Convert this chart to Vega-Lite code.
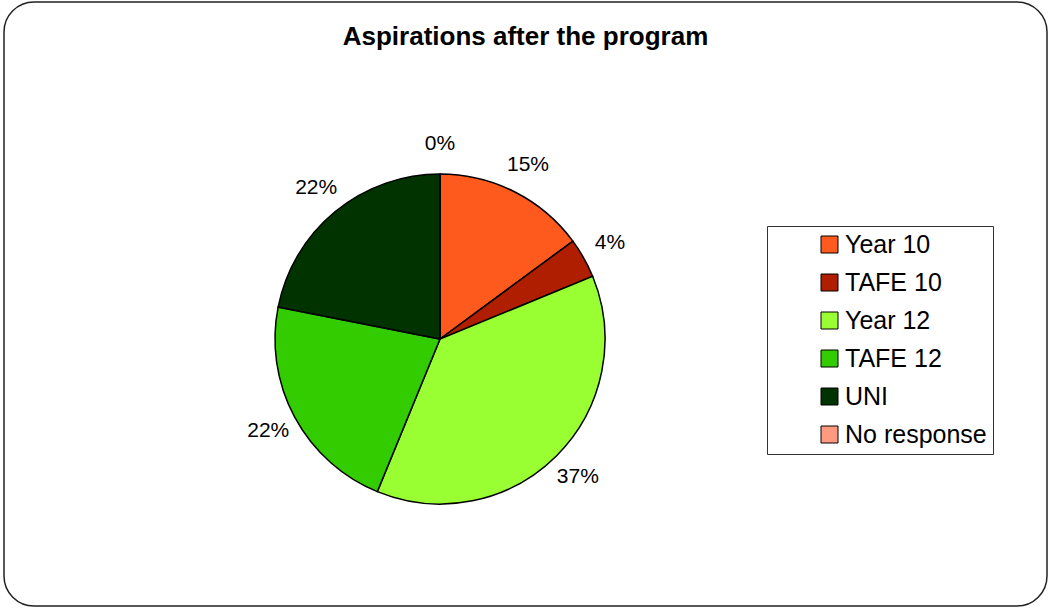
{
  "$schema": "https://vega.github.io/schema/vega-lite/v6.json",
  "width": 1043,
  "height": 604,
  "autosize": {"type": "none"},
  "padding": {"left": 4, "top": 2, "right": 4, "bottom": 2},
  "background": "white",
  "view": {"stroke": "#222", "strokeWidth": 1.5, "cornerRadius": 30, "fill": "white"},
  "title": {
    "text": "Aspirations after the program",
    "font": "Liberation Sans",
    "fontSize": 26,
    "fontWeight": "bold",
    "color": "black",
    "anchor": "middle",
    "offset": -48
  },
  "data": {
    "values": [
      {"category": "Year 10", "share": 14.9},
      {"category": "TAFE 10", "share": 3.9},
      {"category": "Year 12", "share": 37.4},
      {"category": "TAFE 12", "share": 21.9},
      {"category": "UNI", "share": 21.9},
      {"category": "No response", "share": 0}
    ]
  },
  "transform": [
    {"window": [{"op": "row_number", "as": "idx"}]},
    {"joinaggregate": [{"op": "sum", "field": "share", "as": "total"}]},
    {"calculate": "datum.share / datum.total", "as": "fraction"}
  ],
  "encoding": {
    "theta": {"field": "share", "type": "quantitative", "stack": true},
    "order": {"field": "idx", "type": "quantitative"}
  },
  "layer": [
    {
      "mark": {"type": "arc", "outerRadius": 165, "stroke": "black", "strokeWidth": 1.5, "xOffset": -85.5, "yOffset": 35},
      "encoding": {
        "color": {
          "field": "category",
          "type": "nominal",
          "sort": ["Year 10", "TAFE 10", "Year 12", "TAFE 12", "UNI", "No response"],
          "scale": {
            "domain": ["Year 10", "TAFE 10", "Year 12", "TAFE 12", "UNI", "No response"],
            "range": ["#FF5A1E", "#B01E00", "#99FF33", "#33CC00", "#003300", "#FF9980"]
          },
          "legend": {
            "title": null,
            "orient": "none",
            "legendX": 763,
            "legendY": 224,
            "padding": 6,
            "strokeColor": "#333",
            "symbolType": "square",
            "symbolSize": 289,
            "symbolStrokeColor": "black",
            "symbolStrokeWidth": 1,
            "symbolOffset": 44,
            "labelOffset": 3,
            "labelFont": "Liberation Sans",
            "labelFontSize": 25,
            "labelColor": "black",
            "rowPadding": 12
          }
        }
      }
    },
    {
      "mark": {"type": "text", "radius": 195, "xOffset": -85.5, "yOffset": 35, "font": "Liberation Sans", "fontSize": 21, "color": "black", "align": "center", "baseline": "middle"},
      "encoding": {
        "text": {"field": "fraction", "type": "quantitative", "format": ".0%"}
      }
    }
  ]
}
